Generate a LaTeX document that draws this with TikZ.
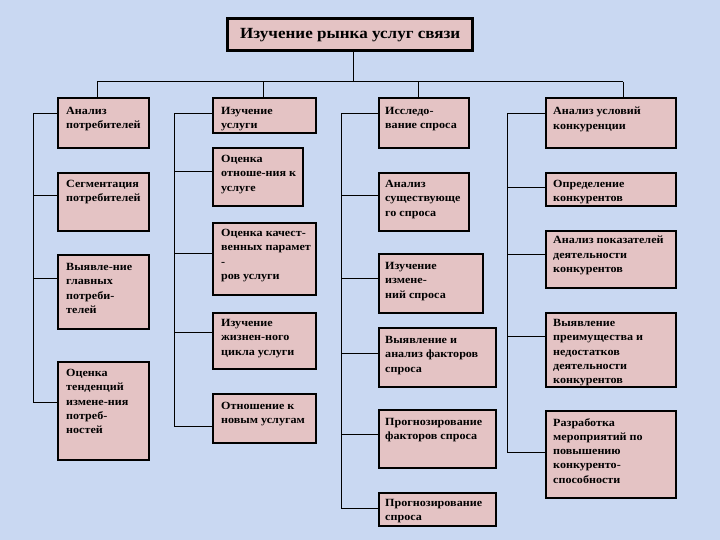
\documentclass[tikz,border=0pt]{standalone}
\usepackage{fontspec}
\setmainfont{Liberation Serif}
\newfontfamily\boxfont[FakeStretch=1.1]{Liberation Serif}
\definecolor{bgblue}{RGB}{201,216,242}
\definecolor{boxpink}{RGB}{228,195,196}
\tikzset{
  box/.style={draw=black, line width=2.4pt, fill=boxpink, anchor=north west, inner sep=0pt},
  titlebox/.style={draw=black, line width=3.4pt, fill=boxpink, anchor=north west, inner sep=0pt},
  txt/.style={anchor=north west, inner sep=0pt, align=left, font=\boxfont\bfseries\fontsize{11}{14.3}\selectfont},
  conn/.style={draw=black, line width=1pt},
}
% #1 name, #2 x1, #3 y1, #4 x2, #5 y2, #6 first line centre y, #7 text x offset, #8 text
\newcommand\bx[8]{%
  \node[box, minimum width={#4pt-#2pt}, minimum height={#5pt-#3pt}] (#1) at (#2,#3) {};
  \node[txt] (#1t) at (#2+#7,#6-4) {#8};
}
\begin{document}
\begin{tikzpicture}[x=1pt,y=-1pt]
\fill[bgblue] (0,0) rectangle (720,540);
\useasboundingbox (0,0) rectangle (720,540);

% title
\node[titlebox, minimum width=245pt, minimum height=32pt] (title) at (226,17) {};
\node[font=\boxfont\bfseries\fontsize{15.5}{18}\selectfont, inner sep=0pt] (titlet) at (title.center) {Изучение рынка услуг связи};

% column 1
\bx{c1a}{57}{97}{148}{147}{111}{9}{Анализ\\потребителей}
\bx{c1b}{57}{172}{148}{230}{184}{9}{Сегментация\\потребителей}
\bx{c1c}{57}{254}{148}{328}{267}{9}{Выявле-ние\\главных\\потреби-\\телей}
\bx{c1d}{57}{361}{148}{459}{373}{9}{Оценка\\тенденций\\измене-ния\\потреб-\\ностей}

% column 2
\bx{c2a}{212}{97}{315}{132}{111}{9}{Изучение\\услуги}
\bx{c2b}{212}{147}{302}{205}{159}{9}{Оценка\\отноше-ния к\\услуге}
\bx{c2c}{212}{222}{315}{294}{233}{9}{Оценка качест-\\венных парамет\\-\\ров услуги}
\bx{c2d}{212}{312}{315}{368}{323}{9}{Изучение\\жизнен-ного\\цикла услуги}
\bx{c2e}{212}{393}{315}{442}{406}{9}{Отношение к\\новым услугам}

% column 3
\bx{c3a}{378}{97}{468}{147}{111}{7}{Исследо-\\вание спроса}
\bx{c3b}{378}{172}{468}{230}{184}{7}{Анализ\\существующе\\го спроса}
\bx{c3c}{378}{253}{482}{312}{266}{7}{Изучение\\измене-\\ний спроса}
\bx{c3d}{378}{327}{495}{386}{340}{7}{Выявление и\\анализ факторов\\спроса}
\bx{c3e}{378}{409}{495}{467}{422}{7}{Прогнозирование\\факторов спроса}
\bx{c3f}{378}{492}{495}{525}{503}{7}{Прогнозирование\\спроса}

% column 4
\bx{c4a}{545}{97}{675}{147}{111}{8}{Анализ условий\\конкуренции}
\bx{c4b}{545}{172}{675}{205}{184}{8}{Определение\\конкурентов}
\bx{c4c}{545}{230}{675}{287}{240}{8}{Анализ показателей\\деятельности\\конкурентов}
\bx{c4d}{545}{312}{675}{386}{323}{8}{Выявление\\преимущества и\\недостатков\\деятельности\\конкурентов}
\bx{c4e}{545}{410}{675}{497}{422}{8}{Разработка\\мероприятий по\\повышению\\конкуренто-\\способности}

% top distribution
\coordinate (hub) at (353,82);
\coordinate (hl) at (97,82);
\coordinate (hr) at (623,82);
\draw[conn] (title.south -| hub) -- (hub);
\draw[conn] (hl) -- (hr);
\draw[conn] (hl) -- (hl |- c1a.north);
\draw[conn] (263,82) coordinate (h2) -- (h2 |- c2a.north);
\draw[conn] (418,82) coordinate (h3) -- (h3 |- c3a.north);
\draw[conn] (hr) -- (hr |- c4a.north);

% spines
\coordinate (s1t) at (33,114);  \coordinate (s1b) at (33,402);
\coordinate (s2t) at (174,114); \coordinate (s2b) at (174,426);
\coordinate (s3t) at (341,114); \coordinate (s3b) at (341,508);
\coordinate (s4t) at (507,114); \coordinate (s4b) at (507,452);
\draw[conn] (s1t) -- (s1b);
\draw[conn] (s2t) -- (s2b);
\draw[conn] (s3t) -- (s3b);
\draw[conn] (s4t) -- (s4b);

% branches column 1
\draw[conn] (s1t) -- (s1t -| c1a.west);
\draw[conn] (33,196) coordinate (b1b) -- (b1b -| c1b.west);
\draw[conn] (33,278) coordinate (b1c) -- (b1c -| c1c.west);
\draw[conn] (s1b) -- (s1b -| c1d.west);
% branches column 2
\draw[conn] (s2t) -- (s2t -| c2a.west);
\draw[conn] (174,172) coordinate (b2b) -- (b2b -| c2b.west);
\draw[conn] (174,253) coordinate (b2c) -- (b2c -| c2c.west);
\draw[conn] (174,332) coordinate (b2d) -- (b2d -| c2d.west);
\draw[conn] (s2b) -- (s2b -| c2e.west);
% branches column 3
\draw[conn] (s3t) -- (s3t -| c3a.west);
\draw[conn] (341,196) coordinate (b3b) -- (b3b -| c3b.west);
\draw[conn] (341,278) coordinate (b3c) -- (b3c -| c3c.west);
\draw[conn] (341,353) coordinate (b3d) -- (b3d -| c3d.west);
\draw[conn] (341,434) coordinate (b3e) -- (b3e -| c3e.west);
\draw[conn] (s3b) -- (s3b -| c3f.west);
% branches column 4
\draw[conn] (s4t) -- (s4t -| c4a.west);
\draw[conn] (507,188) coordinate (b4b) -- (b4b -| c4b.west);
\draw[conn] (507,254) coordinate (b4c) -- (b4c -| c4c.west);
\draw[conn] (507,336) coordinate (b4d) -- (b4d -| c4d.west);
\draw[conn] (s4b) -- (s4b -| c4e.west);
\end{tikzpicture}
\end{document}
